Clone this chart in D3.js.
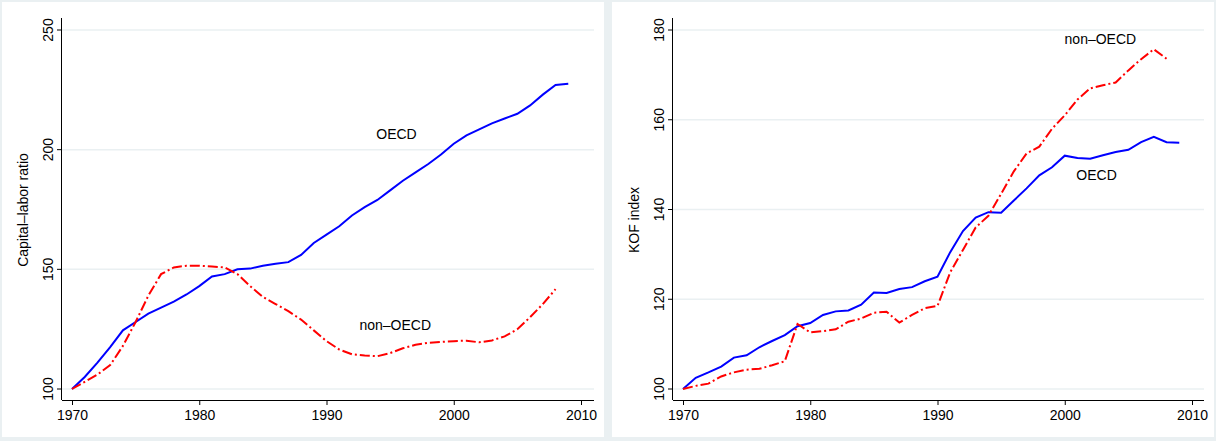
<!DOCTYPE html>
<html><head><meta charset="utf-8">
<script src="https://cdn.jsdelivr.net/npm/d3@7"></script>
<style>body{margin:0;background:#eaf0f2;}svg{display:block;font-family:"Liberation Sans",Arial,sans-serif;}</style>
</head><body><svg id="c" width="1216" height="441"></svg>
<script>
var years_oecd = d3.range(1970, 2010);
var years_non = d3.range(1970, 2009);
var capital_oecd = [100,105,111,117.5,124.5,128,131.5,134,136.5,139.5,143,147,148,150,150.3,151.5,152.3,153,156,161,164.5,168,172.5,176,179,183,187,190.5,194,198,202.5,206,208.5,211,213,215,218.5,223,227,227.5];
var capital_non = [100,103,106,110,118,128,139,148,150.8,151.5,151.5,151.2,150.8,148,143,138.5,135.5,132.5,129,124.5,120,116.5,114.5,114,113.7,115,117,118.5,119.3,119.7,120,120.2,119.5,120.3,122,125,130,135.5,141.7];
var kof_oecd = [100,102.5,103.7,105,107,107.5,109.3,110.7,112,114,114.7,116.5,117.3,117.5,118.8,121.5,121.4,122.3,122.7,124,125,130.5,135.2,138.2,139.4,139.3,142,144.7,147.6,149.4,152,151.5,151.3,152.1,152.8,153.3,155,156.2,155,154.9];
var kof_non = [100,100.7,101.2,102.8,103.7,104.3,104.5,105.3,106.2,114.5,112.6,112.9,113.3,115,115.7,117,117.2,114.8,116.5,118,118.5,126,131,136,138.6,143.5,148.5,152.5,154,158,161,164.5,167,167.7,168.3,171,173.5,175.7,173.6];
var x_ticks = [1970,1980,1990,2000,2010];
var capital_ticks = [100,150,200,250];
var kof_ticks = [100,120,140,160,180];

var svg = d3.select("#c");

function panel(opt){
  var g = svg.append("g").attr("transform","translate("+opt.x0+",0)");
  g.append("rect").attr("x",2).attr("y",2).attr("width",opt.w-4).attr("height",435).attr("fill","white");
  var left = opt.axisX, top = 18, right = opt.w - 12, bottom = 400;
  var x = d3.scaleLinear().domain([1970,2010]).range([left+10, left+10+509]);
  var y = d3.scaleLinear().domain(opt.ydom).range([389,30]);
  g.selectAll(".grid").data(opt.yticks).enter().append("line")
    .attr("x1",left).attr("x2",right).attr("y1",y).attr("y2",y)
    .attr("stroke","#eaf0f2").attr("stroke-width",1.5);
  var xa = g.append("g").attr("transform","translate(0,"+bottom+")")
    .call(d3.axisBottom(x).tickValues(x_ticks).tickSize(5).tickSizeOuter(0).tickFormat(d3.format("d")));
  xa.select(".domain").attr("d","M"+left+",0.5H"+right);
  xa.selectAll("text").attr("font-size",14).attr("fill","#000").attr("dy","0.85em");
  var ya = g.append("g").attr("transform","translate("+left+",0)")
    .call(d3.axisLeft(y).tickValues(opt.yticks).tickSize(5).tickSizeOuter(0).tickFormat(d3.format("d")));
  ya.select(".domain").attr("d","M-0.5,"+top+"V"+bottom);
  ya.selectAll("text").attr("font-size",14).attr("fill","#000")
    .attr("transform",function(d){return "rotate(-90,-9,"+y(d)+")";})
    .attr("x",-9).attr("y",function(d){return y(d);}).attr("dy","0").attr("text-anchor","middle");
  ya.selectAll(".tick").attr("transform",null);
  ya.selectAll(".tick line").attr("y1",function(d){return y(d);}).attr("y2",function(d){return y(d);});
  g.append("text").attr("transform","translate("+(left-34)+","+opt.labelY+") rotate(-90)")
    .attr("text-anchor","middle").attr("font-size",14).text(opt.ylabel);
  var line = d3.line().x(function(d){return x(d[0]);}).y(function(d){return y(d[1]);});
  g.append("path").datum(d3.zip(years_oecd,opt.oecd)).attr("d",line)
    .attr("fill","none").attr("stroke","#0000ff").attr("stroke-width",2);
  g.append("path").datum(d3.zip(years_non,opt.non)).attr("d",line)
    .attr("fill","none").attr("stroke","#ff0000").attr("stroke-width",2).attr("stroke-dasharray","10,3,2,3");
  opt.labels.forEach(function(l){
    g.append("text").attr("x",x(l[1])).attr("y",y(l[2])).attr("text-anchor","middle")
      .attr("font-size",14).text(l[0]);
  });
}

panel({x0:0,w:606,axisX:62,ydom:[100,250],yticks:capital_ticks,ylabel:"Capital\u2013labor ratio",labelY:210,
  oecd:capital_oecd,non:capital_non,labels:[["OECD",1995.5,204.3],["non\u2013OECD",1995.4,124.8]]});
panel({x0:610,w:606,axisX:63,ydom:[100,180],yticks:kof_ticks,ylabel:"KOF index",labelY:220,
  oecd:kof_oecd,non:kof_non,labels:[["OECD",2002.5,146.6],["non\u2013OECD",2002.8,176.9]]});
</script></body></html>
